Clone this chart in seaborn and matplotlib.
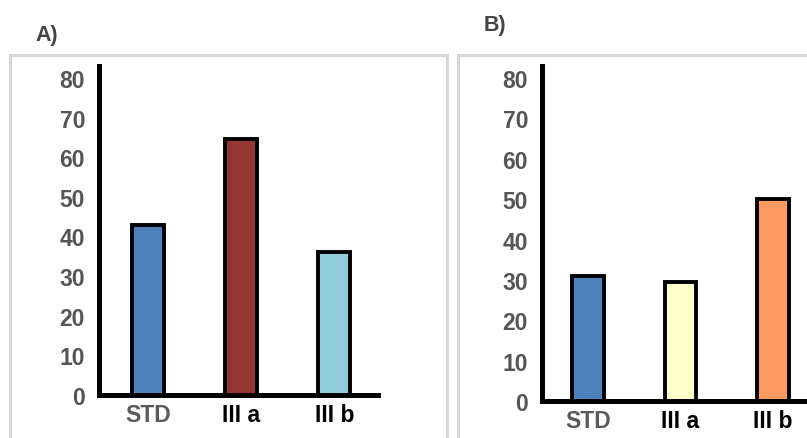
import matplotlib
matplotlib.use("Agg")
import matplotlib.pyplot as plt
import seaborn as sns
from matplotlib.patches import Rectangle

# --- data ---
categories = ["STD", "III a", "III b"]
values_a = [43, 64.5, 36]
values_b = [31, 29.5, 50]
colors_a = ["#4f81bd", "#943634", "#92cddc"]
colors_b = ["#4f81bd", "#ffffcc", "#fd9a62"]
yticks = [0, 10, 20, 30, 40, 50, 60, 70, 80]

sns.set_theme(style="white")
plt.rcParams['font.family'] = ['Liberation Sans', 'DejaVu Sans']

W, H = 807, 439
fig = plt.figure(figsize=(W / 100, H / 100), dpi=100)


def px_axes(left, top, right, bottom):
    # place an axes by pixel edges (top-left origin)
    return fig.add_axes([left / W, 1 - bottom / H, (right - left) / W, (bottom - top) / H])


# light gray frames around each panel
for (l, t, r, b) in [(10, 56, 447, 445), (458, 56, 812, 445)]:
    fig.patches.append(Rectangle((l / W, 1 - b / H), (r - l) / W, (b - t) / H,
                                 transform=fig.transFigure, fill=False,
                                 edgecolor="#d6d6d6", linewidth=2.2, zorder=0))

ax_a = px_axes(99, 67, 378, 396)
ax_b = px_axes(542, 67, 807, 402)

panels = [(ax_a, values_a, colors_a, (-0.53, 2.47)),
          (ax_b, values_b, colors_b, (-0.50, 2.37))]

for ax, vals, cols, xl in panels:
    sns.barplot(x=categories, y=vals, hue=categories, palette=cols, legend=False,
                ax=ax, width=0.34, edgecolor="black", linewidth=2.8, saturation=1)
    ax.set_ylim(0, 83)
    ax.set_xlim(*xl)
    ax.set_yticks(yticks)
    ax.set_yticklabels([str(t) for t in yticks])
    ax.patch.set_alpha(0)
    for side in ["top", "right"]:
        ax.spines[side].set_visible(False)
    for side in ["left", "bottom"]:
        ax.spines[side].set_color("black")
        ax.spines[side].set_linewidth(3.6)
    ax.tick_params(axis="y", length=0, pad=10, labelsize=16.5, labelcolor="#555555")
    ax.tick_params(axis="x", length=0, pad=6, labelsize=16.5)
    for lbl in ax.get_yticklabels():
        lbl.set_fontweight("bold")
    for lbl in ax.get_xticklabels():
        lbl.set_fontweight("bold")
        lbl.set_color("#5a5a5a" if lbl.get_text() == "STD" else "black")
    ax.set_xlabel("")
    ax.set_ylabel("")

fig.text(35 / W, 1 - 36 / H, "A)", fontsize=15.5, fontweight="bold",
         color="#444444", va="center", ha="left")
fig.text(484 / W, 1 - 25 / H, "B)", fontsize=15.5, fontweight="bold",
         color="#444444", va="center", ha="left")

fig.savefig("out.png", dpi=100)
